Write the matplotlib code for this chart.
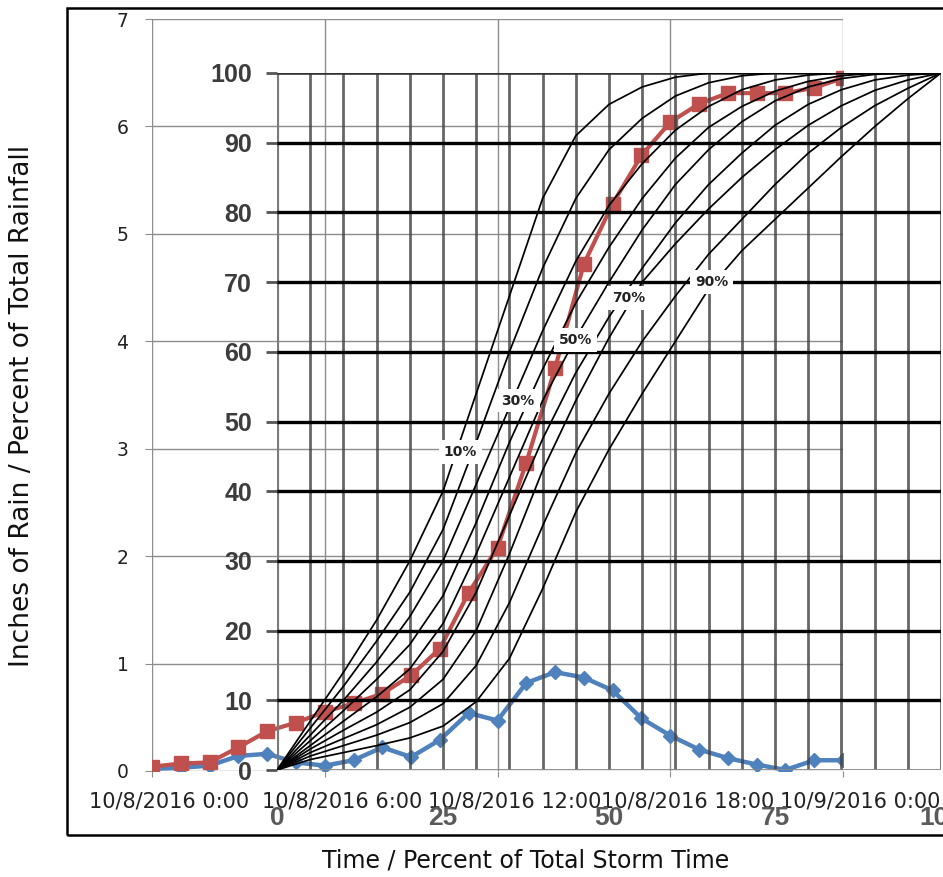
import numpy as np
import matplotlib
matplotlib.use("Agg")
import matplotlib.pyplot as plt
from matplotlib.patches import Rectangle
from matplotlib.transforms import ScaledTranslation

# --- storm hyetograph (Excel chart underneath) ---
HOURS = list(range(25))
HOURLY_IN = [0.02, 0.03, 0.05, 0.14, 0.16, 0.08, 0.05, 0.10, 0.22, 0.13, 0.29,
             0.54, 0.47, 0.82, 0.92, 0.87, 0.75, 0.49, 0.33, 0.20, 0.12, 0.06,
             0.01, 0.10, 0.10]
CUMUL_IN = [0.04, 0.07, 0.08, 0.22, 0.37, 0.45, 0.55, 0.63, 0.72, 0.89, 1.14,
            1.66, 2.08, 2.87, 3.75, 4.72, 5.28, 5.73, 6.04, 6.21, 6.31, 6.31,
            6.31, 6.36, 6.45]
DATE_TICKS = [0, 6, 12, 18, 24]
DATE_LABELS = ["10/8/2016 0:00", "10/8/2016 6:00", "10/8/2016 12:00",
               "10/8/2016 18:00", "10/9/2016 0:00"]
INCH_TICKS = [0, 1, 2, 3, 4, 5, 6, 7]

# --- Huff curves overlay: % of total rainfall at each % of storm time ---
HUFF_TIME = [0, 5, 10, 15, 20, 25, 30, 35, 40, 45, 50, 55, 60, 65, 70, 75,
             80, 85, 90, 95, 100]
HUFF_10 = [0, 7, 14, 21.5, 30, 40, 54, 68, 82, 91, 95.5, 98, 99.4, 100, 100,
           100, 100, 100, 100, 100, 100]
HUFF_20 = [0, 6, 12, 18.5, 25.5, 34.5, 47, 60, 72, 82, 89, 93.5, 96.7, 98.6,
           99.6, 100, 100, 100, 100, 100, 100]
HUFF_30 = [0, 5, 10, 15.5, 22, 30, 41, 52, 63, 73, 81, 87, 91.8, 95.2, 97.6,
           99, 99.7, 100, 100, 100, 100]
HUFF_40 = [0, 4.2, 8.5, 13, 18, 25, 35.5, 47, 57.5, 67, 75, 82, 87.8, 92.2,
           95.2, 97.4, 98.8, 99.6, 100, 100, 100]
HUFF_50 = [0, 3.5, 7, 10.5, 14.5, 21, 31, 42, 53, 62, 70, 77.5, 84, 89, 93,
           96, 98, 99.2, 99.8, 100, 100]
HUFF_60 = [0, 3, 5.7, 8.3, 11.5, 17, 25.5, 36.5, 47.5, 57, 65, 72, 78.5, 84,
           88.5, 92.5, 95.5, 97.6, 99, 99.7, 100]
HUFF_70 = [0, 2.5, 4.5, 6.5, 9, 13, 20, 31, 43, 53, 62, 70, 75.5, 80.5,
           85, 89, 92.5, 95.3, 97.5, 99, 100]
HUFF_80 = [0, 2, 3.5, 5, 6.8, 9.5, 15, 24, 35, 45.5, 54, 61.5, 68, 74, 79,
           84, 88.5, 92.2, 95.3, 97.8, 100]
HUFF_90 = [0, 1.5, 2.5, 3.5, 4.6, 6.3, 9.8, 16, 26, 37, 46, 54, 61.5, 69,
           74.5, 79, 83.5, 88, 92.3, 96.3, 100]
HUFF_CURVES = [HUFF_10, HUFF_20, HUFF_30, HUFF_40, HUFF_50,
               HUFF_60, HUFF_70, HUFF_80, HUFF_90]
HUFF_LABELS = ["10%", "30%", "50%", "70%", "90%"]
HUFF_LABEL_X = [27.6, 36.3, 44.9, 52.9, 65.5]
HUFF_LABEL_Y = [45.6, 53.0, 61.7, 67.7, 70.0]
PCT_TICKS = [0, 10, 20, 30, 40, 50, 60, 70, 80, 90, 100]
TIME_TICKS = [0, 25, 50, 75, 100]

RED = "#C0504D"
BLUE = "#4F81BD"
W, H = 943, 877


def fx(px):
    return px / W


def fy(py):
    return 1 - py / H


fig = plt.figure(figsize=(W / 100, H / 100), dpi=100)
fig.patch.set_facecolor("white")

# outer frame (right side runs off the picture)
fig.patches.append(Rectangle((fx(67), fy(835)), 1.0, fy(8) - fy(835),
                             transform=fig.transFigure, fill=False,
                             edgecolor="black", linewidth=1.8, zorder=0))

# Excel chart
ax = fig.add_axes([fx(152), fy(771), fx(843) - fx(152), fy(19) - fy(771)])
ax.set_xlim(0, 24)
ax.set_ylim(0, 7)
ax.plot(HOURS, HOURLY_IN, color=BLUE, linewidth=3.2, marker="D",
        markersize=7, zorder=3)
ax.plot(HOURS, CUMUL_IN, color=RED, linewidth=3.0, marker="s",
        markersize=10, zorder=4)
ax.set_yticks(INCH_TICKS)
ax.set_xticks(DATE_TICKS)
ax.set_xticklabels(DATE_LABELS)
ax.grid(True, color="#8c8c8c", linewidth=1.0)
ax.set_axisbelow(True)
for s in ax.spines.values():
    s.set_visible(False)
ax.tick_params(axis="y", length=5, color="#8c8c8c", pad=12, labelsize=13.5,
               labelcolor="#222222")
ax.tick_params(axis="x", length=4, color="#8c8c8c", pad=11, labelsize=15,
               labelcolor="#222222")
shift = ScaledTranslation(17 / 100, 0, fig.dpi_scale_trans)
for lab in ax.get_xticklabels():
    lab.set_transform(lab.get_transform() + shift)
ax.patch.set_alpha(0)

# Huff overlay
hx = fig.add_axes([fx(277), fy(770), fx(941) - fx(277), fy(73) - fy(770)])
hx.patch.set_alpha(0)
hx.set_xlim(0, 100)
hx.set_ylim(0, 100)
for v in range(5, 101, 5):
    hx.axvline(v, color="#404040", linewidth=2.0, alpha=0.8, zorder=1)
hx.axvline(0, color="#7a7a7a", linewidth=3.0, zorder=1)
for h in range(10, 100, 10):
    hx.axhline(h, color="black", linewidth=2.4, zorder=1)
hx.axhline(100, color="#333333", linewidth=2.6, zorder=1)
hx.axhline(0, color="#888888", linewidth=2.0, zorder=1)
for curve in HUFF_CURVES:
    hx.plot(HUFF_TIME, curve, color="black", linewidth=1.25, zorder=2,
            solid_joinstyle="round")
for lab, x, y in zip(HUFF_LABELS, HUFF_LABEL_X, HUFF_LABEL_Y):
    hx.text(x, y, lab, ha="center", va="center", fontsize=10, weight="bold",
            color="#222222", zorder=5,
            bbox=dict(boxstyle="square,pad=0.35", facecolor="white",
                      edgecolor="none"))
for s in hx.spines.values():
    s.set_visible(False)
hx.set_yticks(PCT_TICKS)
hx.set_xticks(TIME_TICKS)
hx.tick_params(axis="y", length=8, width=2, color="#555555", pad=10)
hx.tick_params(axis="x", length=0, pad=26)
for lab in hx.get_yticklabels():
    lab.set_fontfamily("Liberation Sans")
    lab.set_fontweight("bold")
    lab.set_fontsize(18)
    lab.set_color("#3c3c3c")
for lab in hx.get_xticklabels():
    lab.set_fontfamily("Liberation Sans")
    lab.set_fontweight("bold")
    lab.set_fontsize(19)
    lab.set_color("#5a5a5a")

fig.text(fx(22), fy(406), "Inches of Rain / Percent of Total Rainfall",
         rotation=90, ha="center", va="center", fontsize=19, color="#111111")
fig.text(fx(526), fy(860), "Time / Percent of Total Storm Time",
         ha="center", va="center", fontsize=17, color="#111111")

fig.savefig("out.png", dpi=100)
